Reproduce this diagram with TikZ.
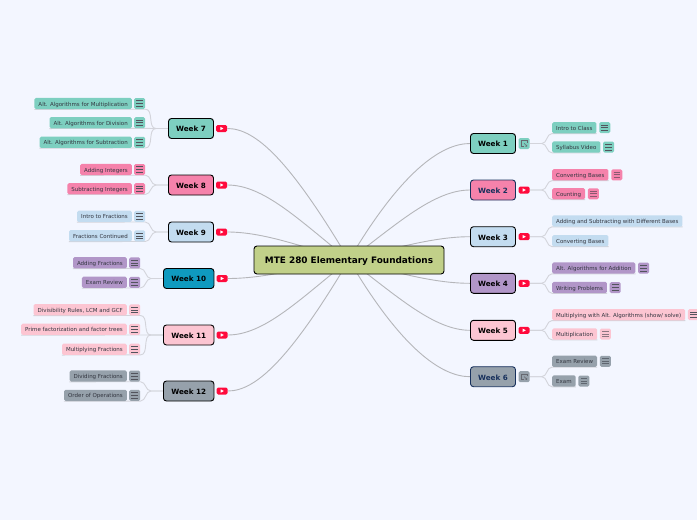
\documentclass[tikz,border=0pt]{standalone}
\usepackage{fontspec}
\setmainfont{DejaVu Sans}
\usetikzlibrary{positioning,backgrounds}
\definecolor{paper}{HTML}{F3F6FF}
\definecolor{trunkgray}{HTML}{B5B6BA}
\definecolor{branchgray}{HTML}{D3D4DB}
\definecolor{inkdark}{HTML}{333640}
\definecolor{navy}{HTML}{17305C}
\definecolor{rootgreen}{HTML}{C1D089}
\definecolor{teal}{HTML}{7DCFC0}
\definecolor{rosepink}{HTML}{F582AB}
\definecolor{skyblue}{HTML}{C3DCF0}
\definecolor{plum}{HTML}{B196C8}
\definecolor{lightpink}{HTML}{FCC5D2}
\definecolor{slategray}{HTML}{96A1AB}
\definecolor{oceanblue}{HTML}{0F9ABF}
\definecolor{playred}{HTML}{FF0A3C}
\tikzset{
  root/.style={draw=black,line width=0.9pt,rounded corners=3pt,fill=rootgreen,minimum width=190pt,minimum height=28pt,inner sep=0pt,text height=7.9pt,text depth=0pt,font=\fontsize{8.9}{10}\selectfont\bfseries},
  week/.style={draw=black,line width=0.9pt,rounded corners=3pt,minimum width=45pt,minimum height=20pt,inner sep=0pt,text height=6.6pt,text depth=0pt,font=\fontsize{7.2}{9}\selectfont\bfseries},
  leaf/.style={rounded corners=1.5pt,minimum height=11.3pt,inner ysep=0pt,inner xsep=4pt,text height=5pt,text depth=0pt,text=inkdark,font=\fontsize{5.5}{6}\selectfont},
  notes/.style={rounded corners=1.5pt,minimum width=11pt,minimum height=11pt,inner sep=0pt,path picture={
    \draw[sharp corners,inkdark!85,line width=0.6pt] ([shift={(-3.4pt,-2.8pt)}]path picture bounding box.center) -- ++(6.8pt,0pt)
      ([shift={(-3.4pt,0pt)}]path picture bounding box.center) -- ++(6.8pt,0pt)
      ([shift={(-3.4pt,2.8pt)}]path picture bounding box.center) -- ++(6.8pt,0pt);}},
  notesdim/.style={rounded corners=1.5pt,minimum width=11pt,minimum height=11pt,inner sep=0pt,path picture={
    \draw[sharp corners,inkdark,line width=1pt,opacity=0.55] ([shift={(-3.2pt,-2.4pt)}]path picture bounding box.center) -- ++(6.4pt,0pt)
      ([shift={(-3.2pt,0pt)}]path picture bounding box.center) -- ++(6.4pt,0pt)
      ([shift={(-3.2pt,2.4pt)}]path picture bounding box.center) -- ++(6.4pt,0pt);}},
  play/.style={rounded corners=1.5pt,fill=playred,minimum width=11pt,minimum height=7pt,inner sep=0pt,path picture={
    \fill[sharp corners,white] ([shift={(-1.4pt,-1.7pt)}]path picture bounding box.center) -- ++(3.2pt,1.7pt) -- ++(-3.2pt,1.7pt) -- cycle;}},
  linkout/.style={rounded corners=1.5pt,minimum width=11pt,minimum height=11pt,inner sep=0pt,path picture={
    \draw[sharp corners,inkdark!75,line width=0.5pt] ([shift={(-0.4pt,-2.8pt)}]path picture bounding box.center) -- ++(-2.4pt,0pt) -- ++(0pt,5.6pt) -- ++(5.6pt,0pt) -- ++(0pt,-2.4pt);
    \draw[sharp corners,inkdark!75,line width=0.5pt] ([shift={(0pt,0.2pt)}]path picture bounding box.center) -- ++(2.8pt,-3pt) ++(-1.6pt,0pt) -- ++(1.6pt,0pt) -- ++(0pt,1.6pt);}},
  trunk/.style={draw=trunkgray,line width=0.9pt},
  branch/.style={draw=branchgray,line width=0.9pt},
}
\begin{document}
\begin{tikzpicture}[x=1pt,y=-1pt]
  \useasboundingbox (0,0) rectangle (697,520);
  \path[clip] (0,0) rectangle (697,520);
  % centre
  \node[root] (hub) at (349,260) {MTE 280 Elementary Foundations};
  % right side
  \node[week,fill=teal] (w1) at (493,143.5) {Week 1};
  \node[linkout,fill=teal,right=2.4pt of w1] (w1i) {};
  \node[week,fill=rosepink,draw=navy,text=navy] (w2) at (493,190) {Week 2};
  \node[play,right=2.4pt of w2] (w2i) {};
  \node[week,fill=skyblue] (w3) at (493,236.7) {Week 3};
  \node[play,right=2.4pt of w3] (w3i) {};
  \node[week,fill=plum] (w4) at (493,283.3) {Week 4};
  \node[play,right=2.4pt of w4] (w4i) {};
  \node[week,fill=lightpink] (w5) at (493,330.3) {Week 5};
  \node[play,right=2.4pt of w5] (w5i) {};
  \node[week,fill=slategray,draw=navy,text=navy] (w6) at (493,376.7) {Week 6};
  \node[linkout,fill=slategray,right=2.4pt of w6] (w6i) {};
  % left side
  \node[week,fill=teal] (w7) at (191,128.5) {Week 7};
  \node[play,right=2pt of w7] (w7i) {};
  \node[week,fill=rosepink] (w8) at (191,185) {Week 8};
  \node[play,right=2pt of w8] (w8i) {};
  \node[week,fill=skyblue] (w9) at (191,232) {Week 9};
  \node[play,right=2pt of w9] (w9i) {};
  \node[week,fill=oceanblue,minimum width=50.5pt] (w10) at (188.7,278.5) {Week 10};
  \node[play,right=2pt of w10] (w10i) {};
  \node[week,fill=lightpink,minimum width=50.5pt] (w11) at (188.7,335) {Week 11};
  \node[play,right=2pt of w11] (w11i) {};
  \node[week,fill=slategray,minimum width=50.5pt] (w12) at (188.7,391) {Week 12};
  \node[play,right=2pt of w12] (w12i) {};
  % leaves of week 1 to 6
  \node[leaf,fill=teal,anchor=west] (w1a) at (552,127.7) {Intro to Class};
  \node[notes,fill=teal,right=2.4pt of w1a] (w1ai) {};
  \node[leaf,fill=teal,anchor=west] (w1b) at (552,147) {Syllabus Video};
  \node[notes,fill=teal,right=2.4pt of w1b] (w1bi) {};
  \node[leaf,fill=rosepink,anchor=west] (w2a) at (552,174.8) {Converting Bases};
  \node[notesdim,fill=rosepink,right=2.4pt of w2a] (w2ai) {};
  \node[leaf,fill=rosepink,anchor=west] (w2b) at (552,193.8) {Counting};
  \node[notesdim,fill=rosepink,right=2.4pt of w2b] (w2bi) {};
  \node[leaf,fill=skyblue,anchor=west] (w3a) at (552,221) {Adding and Subtracting with Different Bases};
  \node[leaf,fill=skyblue,anchor=west] (w3b) at (552,240.8) {Converting Bases};
  \node[leaf,fill=plum,anchor=west] (w4a) at (552,268) {Alt. Algorithms for Addition};
  \node[notes,fill=plum,right=2.4pt of w4a] (w4ai) {};
  \node[leaf,fill=plum,anchor=west] (w4b) at (552,287.5) {Writing Problems};
  \node[notes,fill=plum,right=2.4pt of w4b] (w4bi) {};
  \node[leaf,fill=lightpink,anchor=west] (w5a) at (552,314.7) {Multiplying with Alt. Algorithms (show/ solve)};
  \node[notes,fill=lightpink,right=2.4pt of w5a] (w5ai) {};
  \node[leaf,fill=lightpink,anchor=west] (w5b) at (552,334) {Multiplication};
  \node[notesdim,fill=lightpink,right=2.4pt of w5b] (w5bi) {};
  \node[leaf,fill=slategray,anchor=west] (w6a) at (552,361.3) {Exam Review};
  \node[notesdim,fill=slategray,right=2.4pt of w6a] (w6ai) {};
  \node[leaf,fill=slategray,anchor=west] (w6b) at (552,381) {Exam};
  \node[notesdim,fill=slategray,right=2.4pt of w6b] (w6bi) {};
  % leaves of week 7 to 12
  \node[leaf,fill=teal,anchor=east] (w7a) at (132,103.5) {Alt. Algorithms for Multiplication};
  \node[notes,fill=teal,right=2pt of w7a] (w7ai) {};
  \node[leaf,fill=teal,anchor=east] (w7b) at (132,122.7) {Alt. Algorithms for Division};
  \node[notes,fill=teal,right=2pt of w7b] (w7bi) {};
  \node[leaf,fill=teal,anchor=east] (w7c) at (132,142.3) {Alt. Algorithms for Subtraction};
  \node[notes,fill=teal,right=2pt of w7c] (w7ci) {};
  \node[leaf,fill=rosepink,anchor=east] (w8a) at (132,169.5) {Adding Integers};
  \node[notes,fill=rosepink,right=2pt of w8a] (w8ai) {};
  \node[leaf,fill=rosepink,anchor=east] (w8b) at (132,188.7) {Subtracting Integers};
  \node[notes,fill=rosepink,right=2pt of w8b] (w8bi) {};
  \node[leaf,fill=skyblue,anchor=east] (w9a) at (132,216.3) {Intro to Fractions};
  \node[notes,fill=skyblue,right=2pt of w9a] (w9ai) {};
  \node[leaf,fill=skyblue,anchor=east] (w9b) at (132,235.8) {Fractions Continued};
  \node[notes,fill=skyblue,right=2pt of w9b] (w9bi) {};
  \node[leaf,fill=plum,anchor=east] (w10a) at (127,262.8) {Adding Fractions};
  \node[notes,fill=plum,right=2pt of w10a] (w10ai) {};
  \node[leaf,fill=plum,anchor=east] (w10b) at (127,282.3) {Exam Review};
  \node[notes,fill=plum,right=2pt of w10b] (w10bi) {};
  \node[leaf,fill=lightpink,anchor=east] (w11a) at (127,309.8) {Divisibility Rules, LCM and GCF};
  \node[notes,fill=lightpink,right=2pt of w11a] (w11ai) {};
  \node[leaf,fill=lightpink,anchor=east] (w11b) at (127,329.3) {Prime factorization and factor trees};
  \node[notes,fill=lightpink,right=2pt of w11b] (w11bi) {};
  \node[leaf,fill=lightpink,anchor=east] (w11c) at (127,349.2) {Multiplying Fractions};
  \node[notes,fill=lightpink,right=2pt of w11c] (w11ci) {};
  \node[leaf,fill=slategray,anchor=east] (w12a) at (127,376) {Dividing Fractions};
  \node[notes,fill=slategray,right=2pt of w12a] (w12ai) {};
  \node[leaf,fill=slategray,anchor=east] (w12b) at (127,395.4) {Order of Operations};
  \node[notes,fill=slategray,right=2pt of w12b] (w12bi) {};
  \begin{pgfonlayer}{background}
    \fill[paper] (0,0) rectangle (697,520);
    % connectors from the centre
    \draw[trunk] (hub.center) .. controls (401,172) and (441,143.5) .. (w1.west);
    \draw[trunk] (hub.center) .. controls (397,224) and (434,190) .. (w2.west);
    \draw[trunk] (hub.center) .. controls (395,248) and (435,236.7) .. (w3.west);
    \draw[trunk] (hub.center) .. controls (398,273) and (435,283.3) .. (w4.west);
    \draw[trunk] (hub.center) .. controls (397,296) and (434,330.3) .. (w5.west);
    \draw[trunk] (hub.center) .. controls (401,348) and (441,376.7) .. (w6.west);
    \draw[trunk] (hub.center) .. controls (290,161) and (256,128.5) .. (w7i.east);
    \draw[trunk] (hub.center) .. controls (299,220) and (264,185) .. (w8i.east);
    \draw[trunk] (hub.center) .. controls (305,248) and (265,232) .. (w9i.east);
    \draw[trunk] (hub.center) .. controls (300,268) and (265,278.5) .. (w10i.east);
    \draw[trunk] (hub.center) .. controls (299,300) and (264,335) .. (w11i.east);
    \draw[trunk] (hub.center) .. controls (290,359) and (256,391) .. (w12i.east);
    % connectors to the leaves
    \draw[branch] (w1i.east) -- ++(12,0) to[out=0,in=180] (w1a.south west) -- (w1a.south east);
    \draw[branch] (w1i.east) -- ++(12,0) to[out=0,in=180] (w1b.south west) -- (w1b.south east);
    \draw[branch] (w2i.east) -- ++(12,0) to[out=0,in=180] (w2a.south west) -- (w2a.south east);
    \draw[branch] (w2i.east) -- ++(12,0) to[out=0,in=180] (w2b.south west) -- (w2b.south east);
    \draw[branch] (w3i.east) -- ++(12,0) to[out=0,in=180] (w3a.south west) -- (w3a.south east);
    \draw[branch] (w3i.east) -- ++(12,0) to[out=0,in=180] (w3b.south west) -- (w3b.south east);
    \draw[branch] (w4i.east) -- ++(12,0) to[out=0,in=180] (w4a.south west) -- (w4a.south east);
    \draw[branch] (w4i.east) -- ++(12,0) to[out=0,in=180] (w4b.south west) -- (w4b.south east);
    \draw[branch] (w5i.east) -- ++(12,0) to[out=0,in=180] (w5a.south west) -- (w5a.south east);
    \draw[branch] (w5i.east) -- ++(12,0) to[out=0,in=180] (w5b.south west) -- (w5b.south east);
    \draw[branch] (w6i.east) -- ++(12,0) to[out=0,in=180] (w6a.south west) -- (w6a.south east);
    \draw[branch] (w6i.east) -- ++(12,0) to[out=0,in=180] (w6b.south west) -- (w6b.south east);
    \draw[branch] (w7.west) -- ++(-12,0) to[out=180,in=0] (w7ai.south east) -- (w7a.south west);
    \draw[branch] (w7.west) -- ++(-12,0) to[out=180,in=0] (w7bi.south east) -- (w7b.south west);
    \draw[branch] (w7.west) -- ++(-12,0) to[out=180,in=0] (w7ci.south east) -- (w7c.south west);
    \draw[branch] (w8.west) -- ++(-12,0) to[out=180,in=0] (w8ai.south east) -- (w8a.south west);
    \draw[branch] (w8.west) -- ++(-12,0) to[out=180,in=0] (w8bi.south east) -- (w8b.south west);
    \draw[branch] (w9.west) -- ++(-12,0) to[out=180,in=0] (w9ai.south east) -- (w9a.south west);
    \draw[branch] (w9.west) -- ++(-12,0) to[out=180,in=0] (w9bi.south east) -- (w9b.south west);
    \draw[branch] (w10.west) -- ++(-12,0) to[out=180,in=0] (w10ai.south east) -- (w10a.south west);
    \draw[branch] (w10.west) -- ++(-12,0) to[out=180,in=0] (w10bi.south east) -- (w10b.south west);
    \draw[branch] (w11.west) -- ++(-12,0) to[out=180,in=0] (w11ai.south east) -- (w11a.south west);
    \draw[branch] (w11.west) -- ++(-12,0) to[out=180,in=0] (w11bi.south east) -- (w11b.south west);
    \draw[branch] (w11.west) -- ++(-12,0) to[out=180,in=0] (w11ci.south east) -- (w11c.south west);
    \draw[branch] (w12.west) -- ++(-12,0) to[out=180,in=0] (w12ai.south east) -- (w12a.south west);
    \draw[branch] (w12.west) -- ++(-12,0) to[out=180,in=0] (w12bi.south east) -- (w12b.south west);
  \end{pgfonlayer}
\end{tikzpicture}
\end{document}
